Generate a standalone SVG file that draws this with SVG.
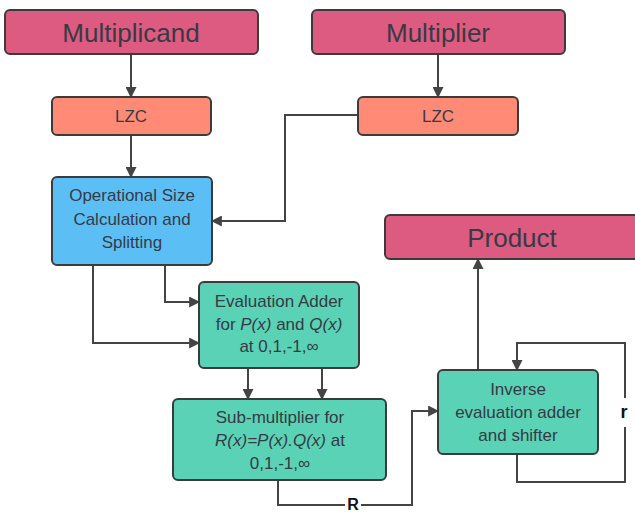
<svg xmlns="http://www.w3.org/2000/svg" width="635" height="514" viewBox="0 0 635 514">
  <defs>
    <marker id="arrow" viewBox="0 0 10 10" markerWidth="11" markerHeight="11" refX="9" refY="5" orient="auto" markerUnits="userSpaceOnUse">
      <path d="M0,0 L10,5 L0,10 z" fill="#444"/>
    </marker>
    <style>
      .box { stroke: #3b3b3b; stroke-width: 2; }
      .io { fill: #dd5a80; }
      .lzc { fill: #ff8b77; }
      .calc { fill: #5bbff6; }
      .op { fill: #5ad2b5; }
      text { font-family: "Liberation Sans", Arial, sans-serif; fill: #363a45; text-anchor: middle; }
      .big { font-size: 26px; }
      .mid { font-size: 17px; }
      .lbl { font-size: 18px; font-weight: bold; fill: #111; }
      .wire { fill: none; stroke: #444; stroke-width: 2; }
    </style>
  </defs>
  <rect width="635" height="514" fill="#fff"/>

  <g id="connectors">
    <path class="wire" d="M131,54 V97" marker-end="url(#arrow)"/>
    <path class="wire" d="M438,54 V97" marker-end="url(#arrow)"/>
    <path class="wire" d="M358,115 H285 V221 H212" marker-end="url(#arrow)"/>
    <path class="wire" d="M131,135 V177" marker-end="url(#arrow)"/>
    <path class="wire" d="M165,265 V302 H199" marker-end="url(#arrow)"/>
    <path class="wire" d="M93,265 V343 H199" marker-end="url(#arrow)"/>
    <path class="wire" d="M248,368 V399" marker-end="url(#arrow)"/>
    <path class="wire" d="M322,368 V399" marker-end="url(#arrow)"/>
    <path class="wire" d="M278,480 V505 H345"/>
    <path class="wire" d="M361,505 H412 V411 H438" marker-end="url(#arrow)"/>
    <text class="lbl" x="353" y="510" style="font-size:16px">R</text>
    <path class="wire" d="M478,370 V259" marker-end="url(#arrow)"/>
    <path class="wire" d="M517,454 V482 H625 V427"/>
    <path class="wire" d="M625,398 V343 H517 V370" marker-end="url(#arrow)"/>
    <text class="lbl" x="624" y="418">r</text>
  </g>

  <g id="multiplicand">
    <rect class="box io" x="5" y="10" width="253" height="44" rx="5"/>
    <text class="big" x="131" y="42">Multiplicand</text>
  </g>
  <g id="multiplier">
    <rect class="box io" x="312" y="10" width="253" height="44" rx="5"/>
    <text class="big" x="438" y="42">Multiplier</text>
  </g>
  <g id="lzc-a">
    <rect class="box lzc" x="52" y="97" width="159" height="38" rx="5"/>
    <text class="mid" x="131" y="122">LZC</text>
  </g>
  <g id="lzc-b">
    <rect class="box lzc" x="358" y="97" width="160" height="38" rx="5"/>
    <text class="mid" x="438" y="122">LZC</text>
  </g>
  <g id="size-calc">
    <rect class="box calc" x="52" y="177" width="160" height="88" rx="5"/>
    <text class="mid" x="132" y="201">Operational Size</text>
    <text class="mid" x="132" y="225">Calculation and</text>
    <text class="mid" x="132" y="248">Splitting</text>
  </g>
  <g id="eval-adder">
    <rect class="box op" x="199" y="282" width="160" height="86" rx="5"/>
    <text class="mid" x="279" y="307">Evaluation Adder</text>
    <text class="mid" x="279" y="330">for <tspan font-style="italic">P(x)</tspan> and <tspan font-style="italic">Q(x)</tspan></text>
    <text class="mid" x="279" y="352">at 0,1,-1,∞</text>
  </g>
  <g id="sub-multiplier">
    <rect class="box op" x="173" y="399" width="213" height="81" rx="5"/>
    <text class="mid" x="280" y="423">Sub-multiplier for</text>
    <text class="mid" x="280" y="446"><tspan font-style="italic">R(x)=P(x).Q(x)</tspan> at</text>
    <text class="mid" x="280" y="469">0,1,-1,∞</text>
  </g>
  <g id="inverse-eval">
    <rect class="box op" x="438" y="370" width="160" height="84" rx="5"/>
    <text class="mid" x="518" y="395">Inverse</text>
    <text class="mid" x="518" y="418">evaluation adder</text>
    <text class="mid" x="518" y="441">and shifter</text>
  </g>
  <g id="product">
    <rect class="box io" x="385" y="215" width="262" height="44" rx="5"/>
    <text class="big" x="512" y="247">Product</text>
  </g>
</svg>
